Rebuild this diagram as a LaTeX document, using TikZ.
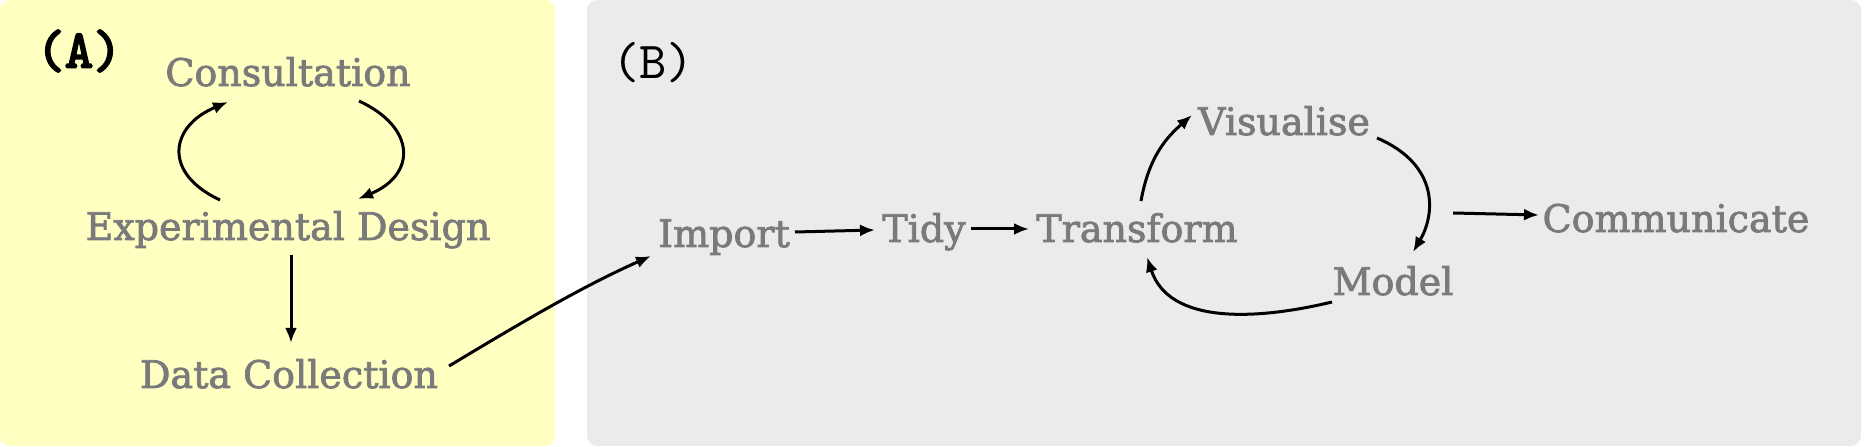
\documentclass[tikz,border=0pt]{standalone}
\usepackage{fontspec}
\setmainfont{DejaVu Serif}
\newfontfamily\stagefont{DejaVu Serif}[FakeBold=2]
\newfontfamily\labelfont{lmmono10-regular.otf}
\newfontfamily\labelboldfont{lmmono10-regular.otf}[FakeBold=3.5]
\usetikzlibrary{arrows.meta}
\definecolor{panelyellow}{HTML}{FFFFC2}
\definecolor{panelgray}{HTML}{EBEBEB}
\definecolor{textgray}{HTML}{7A7A7A}
\tikzset{
  stage/.style={text=textgray, font=\stagefont\fontsize{38}{40}\selectfont, anchor=base, inner sep=0pt},
  panellabel/.style={text=black, font=\labelfont\fontsize{52}{54}\selectfont, inner sep=0pt},
  boldlabel/.style={text=black, font=\labelboldfont\fontsize{54}{56}\selectfont, inner sep=0pt},
  flow/.style={line width=3pt, -{Latex[length=15pt,width=12pt]}},
  panel/.style={rounded corners=10pt}
}
\begin{document}
\begin{tikzpicture}[x=1pt,y=1pt]
\useasboundingbox (0,0) rectangle (1864,447);
% panels
\fill[panel, panelyellow] (0,1) rectangle (555,447);
\fill[panel, panelgray] (587,1) rectangle (1861,447);
% labels
\node[boldlabel] (lA) at (79,396) {(A)};
\node[panellabel] (lB) at (653,384) {(B)};
% panel A nodes
\node[stage] (cons) at (288,361) {Consultation};
\node[stage] (ed) at (288,207) {Experimental Design};
\node[stage] (dc) at (289,59) {Data Collection};
% panel B nodes
\node[stage] (imp) at (724,200) {Import};
\node[stage] (tidy) at (924,205) {Tidy};
\node[stage] (trans) at (1137,205) {Transform};
\node[stage] (vis) at (1284,312) {Visualise};
\node[stage] (model) at (1393,152) {Model};
\node[stage] (comm) at (1676,215) {Communicate};
\coordinate (commstart) at (1453,234);
% connectors A
\draw[flow] ([shift={(-68,40)}]ed.base) .. controls +(-58,27) and +(-58,-24) .. ([shift={(-60,-16)}]cons.base);
\draw[flow] ([shift={(71,-15)}]cons.base) .. controls +(58,-27) and +(58,24) .. ([shift={(70,41)}]ed.base);
\draw[flow] ([shift={(3,-15)}]ed.base) -- ([shift={(2,45)}]dc.base);
\draw[flow] ([shift={(160,22)}]dc.base) .. controls +(70,42) and +(-70,-31) .. ([shift={(-73,-9)}]imp.base);
% connectors B
\draw[flow] ([shift={(71,15)}]imp.base) -- ([shift={(-49,12)}]tidy.base);
\draw[flow] ([shift={(47,13)}]tidy.base) -- ([shift={(-108,13)}]trans.base);
\draw[flow] ([shift={(4,41)}]trans.base) .. controls +(8,45) and +(-25,-22) .. ([shift={(-92,20)}]vis.base);
\draw[flow] ([shift={(93,-3)}]vis.base) .. controls +(63,-27) and +(22,37) .. ([shift={(20,43)}]model.base);
\draw[flow] ([shift={(-61,-7)}]model.base) .. controls +(-75,-18) and +(22,-68) .. ([shift={(10,-15)}]trans.base);
\draw[flow] (commstart) -- ([shift={(-137,17)}]comm.base);
\end{tikzpicture}
\end{document}
